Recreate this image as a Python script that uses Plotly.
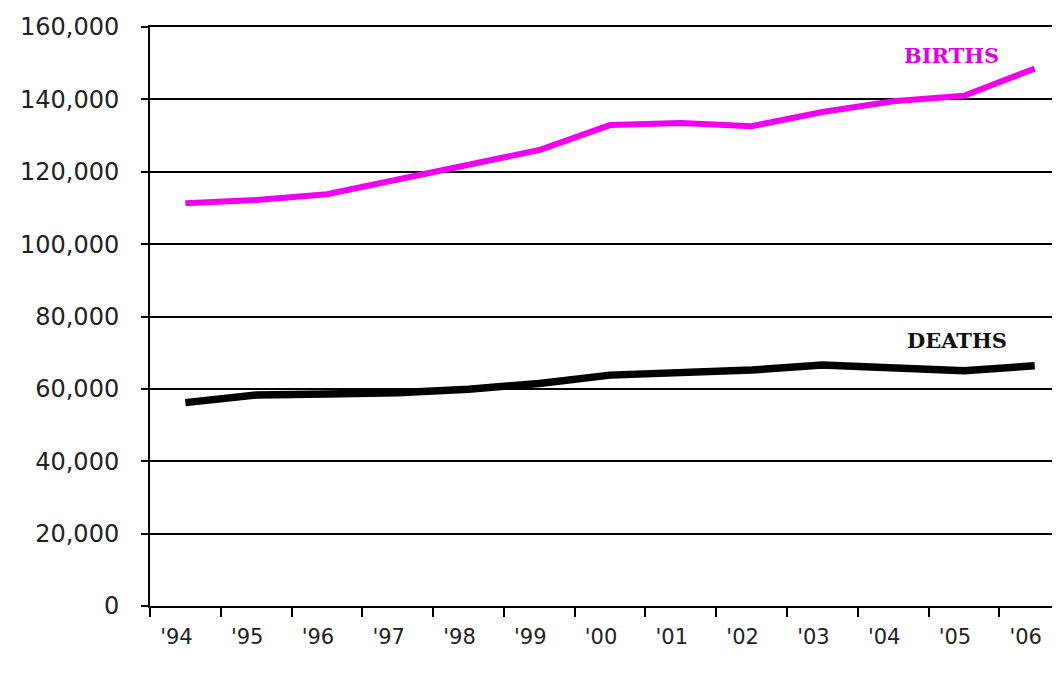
import plotly.graph_objects as go

years = ["'94", "'95", "'96", "'97", "'98", "'99", "'00", "'01", "'02", "'03", "'04", "'05", "'06"]
births = [111300, 112200, 113800, 117900, 122300, 126000, 132900, 133500, 132600, 136500, 139500, 141000, 148500]
deaths = [56200, 58300, 58600, 58900, 59900, 61500, 63800, 64500, 65200, 66600, 65700, 65000, 66400]
y_ticks = [0, 20000, 40000, 60000, 80000, 100000, 120000, 140000, 160000]
y_tick_text = ["0", "20,000", "40,000", "60,000", "80,000", "100,000", "120,000", "140,000", "160,000"]

fig = go.Figure()
fig.add_trace(go.Scatter(x=years, y=births, mode="lines", name="BIRTHS",
                         line=dict(color="#f000f0", width=6), showlegend=False))
fig.add_trace(go.Scatter(x=years, y=deaths, mode="lines", name="DEATHS",
                         line=dict(color="#000000", width=7.5), showlegend=False))

fig.add_annotation(x=10.82, y=152000, text="<b>BIRTHS</b>", showarrow=False,
                   font=dict(family="DejaVu Serif", size=21, color="#e000e0"))
fig.add_annotation(x=10.9, y=73500, text="<b>DEATHS</b>", showarrow=False,
                   font=dict(family="DejaVu Serif", size=21, color="#111111"))

fig.update_layout(
    width=1060, height=675,
    margin=dict(l=142, r=0, t=19, b=77),
    paper_bgcolor="white", plot_bgcolor="white",
    xaxis=dict(
        type="category", range=[-0.5, 12.47],
        tickson="boundaries", ticks="outside", ticklen=9, tickwidth=2, tickcolor="black",
        showline=True, linecolor="black", linewidth=2, mirror=True,
        showgrid=False, zeroline=False,
        tickfont=dict(family="DejaVu Sans", size=21, color="#222222"),
        ticklabelstandoff=11, ticklabelshift=-9,
    ),
    yaxis=dict(
        range=[0, 160000], tickvals=y_ticks, ticktext=y_tick_text,
        ticks="outside", ticklen=7, tickwidth=2, tickcolor="black",
        showline=True, linecolor="black", linewidth=2,
        showgrid=True, gridcolor="black", gridwidth=2, zeroline=False,
        tickfont=dict(family="DejaVu Sans", size=24, color="#222222"),
        ticklabelstandoff=17,
    ),
)

fig.write_html("out.html")
